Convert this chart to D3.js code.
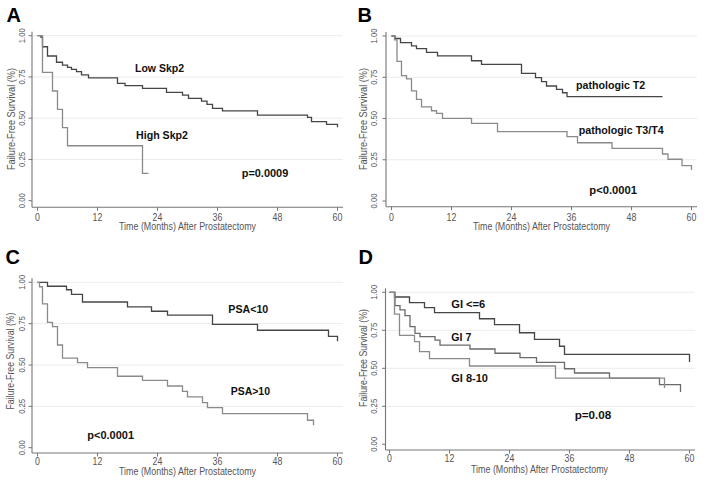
<!DOCTYPE html>
<html><head><meta charset="utf-8">
<script src="https://cdn.jsdelivr.net/npm/d3@7"></script>
<style>html,body{margin:0;padding:0;background:#fff}svg{display:block}</style>
</head><body><svg id="chart" width="704" height="484"></svg>
<script>
// ---------- data ----------
const xTicks = [0, 12, 24, 36, 48, 60];
const yTicks = [0, 0.25, 0.5, 0.75, 1];
const yTickLabels = ["0.00", "0.25", "0.50", "0.75", "1.00"];
const xTitle = "Time (Months) After Prostatectomy";
const yTitle = "Failure-Free Survival (%)";
const panelLetters = ["A", "B", "C", "D"];

// Panel A
const aLowT  = [0, 0.7, 1, 2, 3.8, 5, 6, 6.8, 7.8, 8.8, 10.2, 16, 17.5, 21, 25.8, 29, 30.2, 32.8, 33.9, 35, 37, 44, 54, 54.8, 57.8, 60];
const aLowS  = [1, 0.99, 0.933, 0.877, 0.839, 0.822, 0.808, 0.796, 0.782, 0.762, 0.745, 0.711, 0.697, 0.681, 0.657, 0.64, 0.62, 0.604, 0.584, 0.56, 0.544, 0.519, 0.505, 0.479, 0.463, 0.445];
const aHighT = [0, 1, 3, 4, 5, 6, 21, 22.2];
const aHighS = [1, 0.778, 0.665, 0.554, 0.443, 0.333, 0.166, 0.166];
const aLabels = ["Low Skp2", "High Skp2", "p=0.0009"];

// Panel B
const bT2T = [0, 0.7, 1.8, 4, 5, 7, 9.2, 16, 18, 26, 28.8, 30, 31, 33, 34.2, 35.1, 54.2];
const bT2S = [1, 0.985, 0.96, 0.94, 0.923, 0.901, 0.879, 0.85, 0.828, 0.774, 0.748, 0.723, 0.697, 0.677, 0.656, 0.632, 0.632];
const bT34T = [0, 0.6, 1.1, 2, 3, 4, 5, 6, 8, 9, 10.2, 16, 21.2, 35.1, 37.2, 44.1, 54.2, 55.3, 58.1, 60];
const bT34S = [1, 0.976, 0.846, 0.76, 0.74, 0.667, 0.616, 0.571, 0.547, 0.531, 0.501, 0.471, 0.42, 0.39, 0.353, 0.319, 0.285, 0.253, 0.214, 0.188];
const bLabels = ["pathologic T2", "pathologic T3/T4", "p<0.0001"];

// Panel C
const cLowT  = [0, 2, 5.8, 6.8, 9, 18, 22.8, 26, 35, 44, 58.2, 60];
const cLowS  = [1, 0.976, 0.955, 0.927, 0.881, 0.851, 0.825, 0.801, 0.746, 0.71, 0.673, 0.643];
const cHighT = [0, 0.4, 1, 2, 3, 4, 5, 8, 10, 16, 21, 26, 29, 30, 33, 34, 37, 54, 55.2];
const cHighS = [1, 0.973, 0.87, 0.758, 0.732, 0.621, 0.542, 0.514, 0.484, 0.432, 0.407, 0.373, 0.341, 0.307, 0.272, 0.242, 0.206, 0.166, 0.136];
const cLabels = ["PSA<10", "PSA>10", "p<0.0001"];

// Panel D
const dG6T  = [0, 1, 4, 7, 9, 18, 21, 26, 29, 34, 35, 60];
const dG6S  = [1, 0.969, 0.932, 0.899, 0.866, 0.826, 0.787, 0.734, 0.69, 0.645, 0.592, 0.541];
const dG7T  = [0, 1.1, 2.1, 3.1, 4.1, 5.1, 6.1, 9.1, 10.1, 16.1, 21.1, 26.1, 29.4, 35, 37, 44, 54, 58.2];
const dG7S  = [1, 0.912, 0.884, 0.846, 0.774, 0.73, 0.708, 0.686, 0.653, 0.627, 0.599, 0.57, 0.539, 0.497, 0.469, 0.436, 0.392, 0.344];
const dG810T = [0, 1, 2, 5, 6, 8, 16, 33.2, 55];
const dG810S = [1, 0.857, 0.716, 0.675, 0.61, 0.563, 0.515, 0.436, 0.37];
const dLabels = ["GI <=6", "GI 7", "GI 8-10", "p=0.08"];

// ---------- layout / style ----------
const DARK = "#454545", MID = "#6a6a6a", LIGHT = "#8a8a8a";
const panels = [
  { letter: panelLetters[0], lx: 6.5, ly: 21.5, x0: 37.5, yTop: 35.7, yBot: 200.7, axY: 207.3, axX: 32,
    tickBase: 221, titleBase: 230, yLblX: 25, yTitleX: 14.5, yTitleCy: 119, yTitleLen: 102,
    series: [[aLowT, aLowS, DARK], [aHighT, aHighS, LIGHT]],
    labels: [[aLabels[0], 135, 71.7, 49], [aLabels[1], 136, 139.3, 52], [aLabels[2], 241.7, 176.5, 46.6]] },
  { letter: panelLetters[1], lx: 357.5, ly: 21.5, x0: 391.5, yTop: 36, yBot: 201, axY: 206.7, axX: 386,
    tickBase: 221.5, titleBase: 230, yLblX: 377, yTitleX: 367, yTitleCy: 119, yTitleLen: 102,
    series: [[bT2T, bT2S, DARK], [bT34T, bT34S, LIGHT]],
    labels: [[bLabels[0], 576, 89, 69.3], [bLabels[1], 578.7, 134, 85], [bLabels[2], 589.3, 194, 47.7]] },
  { letter: panelLetters[2], lx: 5.5, ly: 264, x0: 37.5, yTop: 282.3, yBot: 447.7, axY: 453, axX: 32,
    tickBase: 465, titleBase: 474.5, yLblX: 25, yTitleX: 14, yTitleCy: 361, yTitleLen: 97,
    series: [[cLowT, cLowS, DARK], [cHighT, cHighS, LIGHT]],
    labels: [[cLabels[0], 228.3, 312.7, 40], [cLabels[1], 230.7, 395.3, 39.3], [cLabels[2], 87.3, 438.6, 46.7]] },
  { letter: panelLetters[3], lx: 358.5, ly: 263.5, x0: 389.5, yTop: 292.3, yBot: 444.3, axY: 450, axX: 385.5,
    tickBase: 462, titleBase: 472.5, yLblX: 377, yTitleX: 367, yTitleCy: 358, yTitleLen: 98,
    series: [[dG6T, dG6S, DARK], [dG7T, dG7S, MID], [dG810T, dG810S, LIGHT]],
    labels: [[dLabels[0], 451.3, 307.7, 34], [dLabels[1], 451.3, 341, 20], [dLabels[2], 451.3, 382, 36.7], [dLabels[3], 574.7, 419, 36.6]] }
];

const svg = d3.select("#chart");
svg.append("rect").attr("width", 704).attr("height", 484).attr("fill", "#fff");
const FONT = "'Liberation Sans', Arial, Helvetica, sans-serif";

panels.forEach(p => {
  const x = d3.scaleLinear().domain([0, 60]).range([p.x0, p.x0 + 300]);
  const y = d3.scaleLinear().domain([0, 1]).range([p.yBot, p.yTop]);
  const g = svg.append("g");
  const xEnd = x(60) + 5.5;

  // gridlines
  g.selectAll(".grid").data(yTicks.filter(v => v > 0)).enter().append("line")
    .attr("x1", p.axX).attr("x2", xEnd).attr("y1", d => y(d)).attr("y2", d => y(d))
    .attr("stroke", "#ebebeb").attr("stroke-width", 1);

  // axes lines
  g.append("line").attr("x1", p.axX).attr("x2", p.axX).attr("y1", p.yTop - 4).attr("y2", p.axY)
    .attr("stroke", "#767676").attr("stroke-width", 1.1);
  g.append("line").attr("x1", p.axX).attr("x2", xEnd).attr("y1", p.axY).attr("y2", p.axY)
    .attr("stroke", "#767676").attr("stroke-width", 1.1);

  // x ticks
  g.selectAll(".xt").data(xTicks).enter().append("line")
    .attr("x1", d => x(d)).attr("x2", d => x(d)).attr("y1", p.axY).attr("y2", p.axY + 3.5)
    .attr("stroke", "#767676").attr("stroke-width", 1);
  g.selectAll(".xl").data(xTicks).enter().append("text")
    .attr("x", d => x(d)).attr("y", p.tickBase).attr("text-anchor", "middle")
    .attr("font-family", FONT).attr("font-size", 10).attr("fill", "#555")
    .attr("transform", d => `translate(${x(d)},0) scale(0.88,1) translate(${-x(d)},0)`)
    .text(d => d);

  // y ticks
  g.selectAll(".yt").data(yTicks).enter().append("line")
    .attr("x1", p.axX - 3.5).attr("x2", p.axX).attr("y1", d => y(d)).attr("y2", d => y(d))
    .attr("stroke", "#767676").attr("stroke-width", 1);
  g.selectAll(".yl").data(yTicks).enter().append("text")
    .attr("transform", d => `translate(${p.yLblX},${y(d)}) rotate(-90)`)
    .attr("text-anchor", "middle")
    .attr("font-family", FONT).attr("font-size", 9.5).attr("fill", "#555")
    .attr("textLength", 15).attr("lengthAdjust", "spacingAndGlyphs")
    .text((d, i) => yTickLabels[i]);

  // axis titles
  g.append("text").attr("x", x(30)).attr("y", p.titleBase).attr("text-anchor", "middle")
    .attr("font-family", FONT).attr("font-size", 10).attr("fill", "#555")
    .attr("textLength", 137).attr("lengthAdjust", "spacingAndGlyphs").text(xTitle);
  g.append("text").attr("transform", `translate(${p.yTitleX},${p.yTitleCy}) rotate(-90)`)
    .attr("text-anchor", "middle")
    .attr("font-family", FONT).attr("font-size", 10).attr("fill", "#555")
    .attr("textLength", p.yTitleLen).attr("lengthAdjust", "spacingAndGlyphs").text(yTitle);

  // curves
  const line = d3.line().x(d => x(d[0])).y(d => y(d[1])).curve(d3.curveStepAfter);
  p.series.forEach(([T, S, col]) => {
    const pts = T.map((t, i) => [t, S[i]]);
    g.append("path").attr("d", line(pts)).attr("fill", "none")
      .attr("stroke", col).attr("stroke-width", 1.3);
  });

  // curve labels
  p.labels.forEach(([txt, lx, ly, len]) => {
    g.append("text").attr("x", lx).attr("y", ly)
      .attr("font-family", FONT).attr("font-size", 10.5).attr("font-weight", "bold").attr("fill", "#111")
      .attr("textLength", len).attr("lengthAdjust", "spacingAndGlyphs").text(txt);
  });

  // panel letter
  g.append("text").attr("x", p.lx).attr("y", p.ly)
    .attr("font-family", FONT).attr("font-size", 20).attr("font-weight", "bold").attr("fill", "#000")
    .text(p.letter);
});
</script></body></html>
